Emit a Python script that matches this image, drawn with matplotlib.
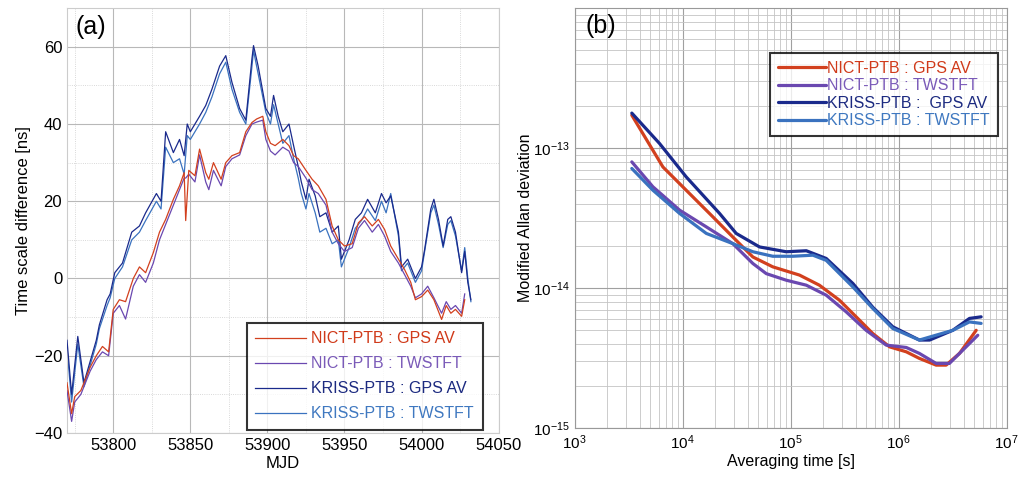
import matplotlib
matplotlib.use("Agg")
import matplotlib.pyplot as plt
from matplotlib.ticker import MultipleLocator, LogLocator, NullFormatter

plt.rcParams['font.family'] = ['Liberation Sans', 'DejaVu Sans']

# ---------------- Panel (a) data: time scale difference [ns] vs MJD ----------------
mjd_nict = [53770, 53773, 53775, 53779, 53785, 53789, 53793, 53797, 53800, 53804, 53808, 53813, 53817,
            53821, 53826, 53830, 53834, 53839, 53843, 53846, 53847, 53849, 53853, 53856, 53860, 53862,
            53865, 53870, 53873, 53877, 53882, 53886, 53890, 53893, 53897, 53899, 53902, 53905, 53910,
            53914, 53917, 53920, 53925, 53929, 53933, 53938, 53942, 53946, 53950, 53955, 53959, 53963,
            53968, 53972, 53976, 53980, 53985, 53989, 53993, 53996, 54000, 54004, 54008, 54013, 54016,
            54019, 54022, 54026, 54028]
nict_gps = [-27, -35, -30.6, -29, -23, -20, -17.6, -19, -8, -5.5, -6, 0, 3, 1.5, 6.7, 12, 15.3, 20.5, 24,
            27.4, 15, 28, 26.6, 33.5, 27.4, 25.7, 30, 25.7, 30, 31.8, 32.6, 38, 40.4, 41.3, 42, 38, 35,
            34.4, 36, 34.4, 31.8, 31, 28, 25.7, 24, 20.5, 13.6, 10, 8.4, 9, 14.4, 16, 13.6, 15.3, 12.7,
            8.4, 5, 2.3, -1, -5.5, -4.7, -3, -5.5, -10.6, -7, -9, -8, -9.8, -5.5]
nict_tw = [-29, -37, -32, -30, -24, -21, -19, -20, -9, -7, -10.5, -2, 1, -1, 4, 10, 14, 19, 23, 26, 26,
           27, 25, 32, 25, 23, 28, 24, 29, 31, 32, 37, 40, 40.5, 41, 36, 33, 32, 34, 33, 30, 29, 26, 23,
           22, 19, 12, 9, 7, 8, 13, 15, 12, 14, 11, 7, 4, 1, -2, -5, -4, -2, -5, -9, -6, -8, -7, -9, -4]

mjd_kriss = [53770, 53773, 53777, 53781, 53789, 53791, 53796, 53798, 53801, 53806, 53812, 53817, 53821,
             53828, 53831, 53834, 53839, 53843, 53846, 53848, 53850, 53856, 53860, 53864, 53869, 53873,
             53877, 53882, 53886, 53890, 53891, 53894, 53899, 53902, 53904, 53907, 53910, 53914, 53917,
             53920, 53922, 53925, 53927, 53931, 53934, 53938, 53942, 53946, 53948, 53953, 53957, 53961,
             53965, 53970, 53974, 53977, 53980, 53985, 53987, 53991, 53996, 54000, 54002, 54006, 54008,
             54011, 54014, 54017, 54019, 54022, 54026, 54028, 54030, 54032]
kriss_gps = [-16, -30, -15, -27, -16, -12, -5.5, -4, 1.5, 4, 12, 13.6, 17, 22, 20, 38, 32.6, 36, 31.8, 40,
             38, 42, 44.8, 49, 55, 57.7, 50.8, 44, 41, 57, 60.3, 55, 44, 42, 47.4, 42, 38, 40, 34.4, 29,
             25, 20.5, 25.7, 21.4, 16, 17, 12, 13.6, 5, 10, 15.3, 17, 20.5, 17, 22, 19.6, 21.4, 12, 3, 5,
             0, 3, 7.5, 18, 20.5, 15.3, 8.4, 15.3, 16, 12, 1.5, 7, -1, -5.5]
kriss_tw = [-18, -32, -17, -28, -17, -13, -7, -5, 0, 3, 10, 12, 15, 20, 18, 34, 30, 31, 27, 37, 36, 40,
            43, 47, 53, 56, 49, 43, 40, 55, 59, 53, 43, 40, 45, 40, 35, 37, 31, 26, 22, 18, 22, 17, 12,
            13, 9, 10, 3, 8, 13, 15, 18, 15, 20, 17, 22, 11, 2, 4, -1, 2, 7, 17, 19, 14, 8, 14, 15, 11,
            2, 8, 0, -6]

# ---------------- Panel (b) data: modified Allan deviation ----------------
tau_nict_gps = [3.39e3, 6.58e3, 1.08e4, 1.91e4, 2.92e4, 4.48e4, 6.85e4, 1.21e5, 1.85e5, 2.84e5, 4.36e5,
                5.78e5, 8.26e5, 1.18e6, 1.56e6, 2.23e6, 2.76e6, 3.67e6, 5.24e6]
mdev_nict_gps = [1.72e-13, 7.34e-14, 5.01e-14, 3.23e-14, 2.32e-14, 1.67e-14, 1.42e-14, 1.24e-14, 1.05e-14,
                 8.2e-15, 5.9e-15, 4.74e-15, 3.81e-15, 3.51e-15, 3.15e-15, 2.82e-15, 2.82e-15, 3.42e-15,
                 5.0e-15]
tau_nict_tw = [3.39e3, 5.31e3, 9.38e3, 1.66e4, 2.92e4, 4.48e4, 5.96e4, 9.12e4, 1.40e5, 2.14e5, 3.27e5,
               5.01e5, 7.69e5, 1.18e6, 1.56e6, 2.23e6, 2.96e6, 3.94e6, 5.42e6]
mdev_nict_tw = [7.98e-14, 5.30e-14, 3.61e-14, 2.74e-14, 2.08e-14, 1.50e-14, 1.27e-14, 1.14e-14, 1.05e-14,
                8.91e-15, 6.78e-15, 5.0e-15, 3.92e-15, 3.77e-15, 3.42e-15, 2.90e-15, 2.90e-15, 3.61e-15,
                4.61e-15]
tau_kriss_gps = [3.39e3, 6.12e3, 1.08e4, 2.20e4, 3.14e4, 5.16e4, 9.12e4, 1.40e5, 2.14e5, 3.78e5, 5.78e5,
                 8.85e5, 1.56e6, 1.94e6, 3.18e6, 4.54e6, 5.82e6]
mdev_kriss_gps = [1.78e-13, 1.08e-13, 6.24e-14, 3.42e-14, 2.46e-14, 1.97e-14, 1.82e-14, 1.85e-14, 1.63e-14,
                  1.08e-14, 7.3e-15, 5.3e-15, 4.26e-15, 4.26e-15, 5.0e-15, 6.08e-15, 6.24e-15]
tau_kriss_tw = [3.39e3, 5.31e3, 9.38e3, 1.66e4, 2.92e4, 4.48e4, 6.85e4, 1.05e5, 1.61e5, 2.14e5, 3.78e5,
                5.78e5, 8.85e5, 1.56e6, 3.18e6, 4.54e6, 5.82e6]
mdev_kriss_tw = [7.16e-14, 5.01e-14, 3.42e-14, 2.46e-14, 2.08e-14, 1.82e-14, 1.69e-14, 1.69e-14, 1.72e-14,
                 1.58e-14, 1.02e-14, 7.16e-15, 5.15e-15, 4.26e-15, 5.0e-15, 5.74e-15, 5.6e-15]

labels = ["NICT-PTB : GPS AV", "NICT-PTB : TWSTFT", "KRISS-PTB : GPS AV", "KRISS-PTB : TWSTFT"]
labels_b = ["NICT-PTB : GPS AV", "NICT-PTB : TWSTFT", "KRISS-PTB :  GPS AV", "KRISS-PTB : TWSTFT"]
colors = ["#d2401e", "#6a48b0", "#1a2a8c", "#3a72bf"]
text_colors = ["#d03a1a", "#7a5ab8", "#1c2a80", "#3f78c0"]

fig = plt.figure(figsize=(10.26, 4.8), dpi=100)
ax1 = fig.add_axes([0.0653, 0.098, 0.4207, 0.885])
ax2 = fig.add_axes([0.560, 0.108, 0.421, 0.875])

# ----- panel (a)
series_a = [(mjd_nict, nict_gps), (mjd_nict, nict_tw), (mjd_kriss, kriss_gps), (mjd_kriss, kriss_tw)]
zorders = [5, 4, 3, 2]
lines = []
for (x, y), c, lab, z in zip(series_a, colors, labels, zorders):
    ln, = ax1.plot(x, y, color=c, lw=0.9, label=lab, zorder=z)
    lines.append(ln)
ax1.set_xlim(53770, 54050)
ax1.set_ylim(-40, 70)
ax1.xaxis.set_major_locator(MultipleLocator(50))
ax1.yaxis.set_major_locator(MultipleLocator(20))
ax1.xaxis.set_minor_locator(MultipleLocator(25))
ax1.yaxis.set_minor_locator(MultipleLocator(10))
ax1.grid(True, which='major', color='#b8b8b8', lw=0.8)
ax1.grid(True, which='minor', color='#cccccc', lw=0.6, ls=':')
ax1.tick_params(which='both', length=0, labelsize=12)
ax1.set_xlabel("MJD", fontsize=12, labelpad=2)
ax1.set_ylabel("Time scale difference [ns]", fontsize=12, labelpad=2)
for s in ax1.spines.values():
    s.set_color('#cccccc')
ax1.text(0.02, 0.985, "(a)", transform=ax1.transAxes, fontsize=18, va='top', ha='left')
leg1 = ax1.legend(handles=lines, loc='lower right', bbox_to_anchor=(0.963, 0.007), borderaxespad=0,
                  fontsize=11.5, frameon=True, fancybox=False, edgecolor='black', handlelength=3.2,
                  handletextpad=0.3, borderpad=0.55, labelspacing=0.62)
leg1.get_frame().set_linewidth(1.5)
for t, c in zip(leg1.get_texts(), text_colors):
    t.set_color(c)

# ----- panel (b)
series_b = [(tau_nict_gps, mdev_nict_gps), (tau_nict_tw, mdev_nict_tw),
            (tau_kriss_gps, mdev_kriss_gps), (tau_kriss_tw, mdev_kriss_tw)]
lines_b = []
for (x, y), c, lab in zip(series_b, colors, labels_b):
    ln, = ax2.plot(x, y, color=c, lw=2.3, label=lab, solid_capstyle='round')
    lines_b.append(ln)
ax2.set_xscale('log')
ax2.set_yscale('log')
ax2.set_xlim(1e3, 1e7)
ax2.set_ylim(1e-15, 1e-12)
ax2.xaxis.set_major_locator(LogLocator(base=10, numticks=10))
ax2.xaxis.set_minor_locator(LogLocator(base=10, subs=range(2, 10), numticks=20))
ax2.yaxis.set_minor_locator(LogLocator(base=10, subs=range(2, 10), numticks=20))
ax2.xaxis.set_minor_formatter(NullFormatter())
ax2.yaxis.set_minor_formatter(NullFormatter())
ax2.set_yticks([1e-15, 1e-14, 1e-13])
ax2.grid(True, which='major', color='#a0a0a0', lw=0.8)
ax2.grid(True, which='minor', color='#c4c4c4', lw=0.6)
ax2.tick_params(which='both', length=0, labelsize=11)
ax2.set_xlabel("Averaging time [s]", fontsize=11.5, labelpad=2)
ax2.set_ylabel("Modified Allan deviation", fontsize=11.5, labelpad=0)
for s in ax2.spines.values():
    s.set_color('#999999')
ax2.text(0.025, 0.985, "(b)", transform=ax2.transAxes, fontsize=18, va='top', ha='left')
leg2 = ax2.legend(handles=lines_b, loc='upper right', bbox_to_anchor=(0.98, 0.893), borderaxespad=0,
                  fontsize=11.5, frameon=True, fancybox=False, edgecolor='black', handlelength=3.0,
                  handletextpad=0.1, borderpad=0.5, labelspacing=0.15)
leg2.get_frame().set_linewidth(1.5)
for t, c in zip(leg2.get_texts(), text_colors):
    t.set_color(c)

fig.savefig("out.png", dpi=100)
